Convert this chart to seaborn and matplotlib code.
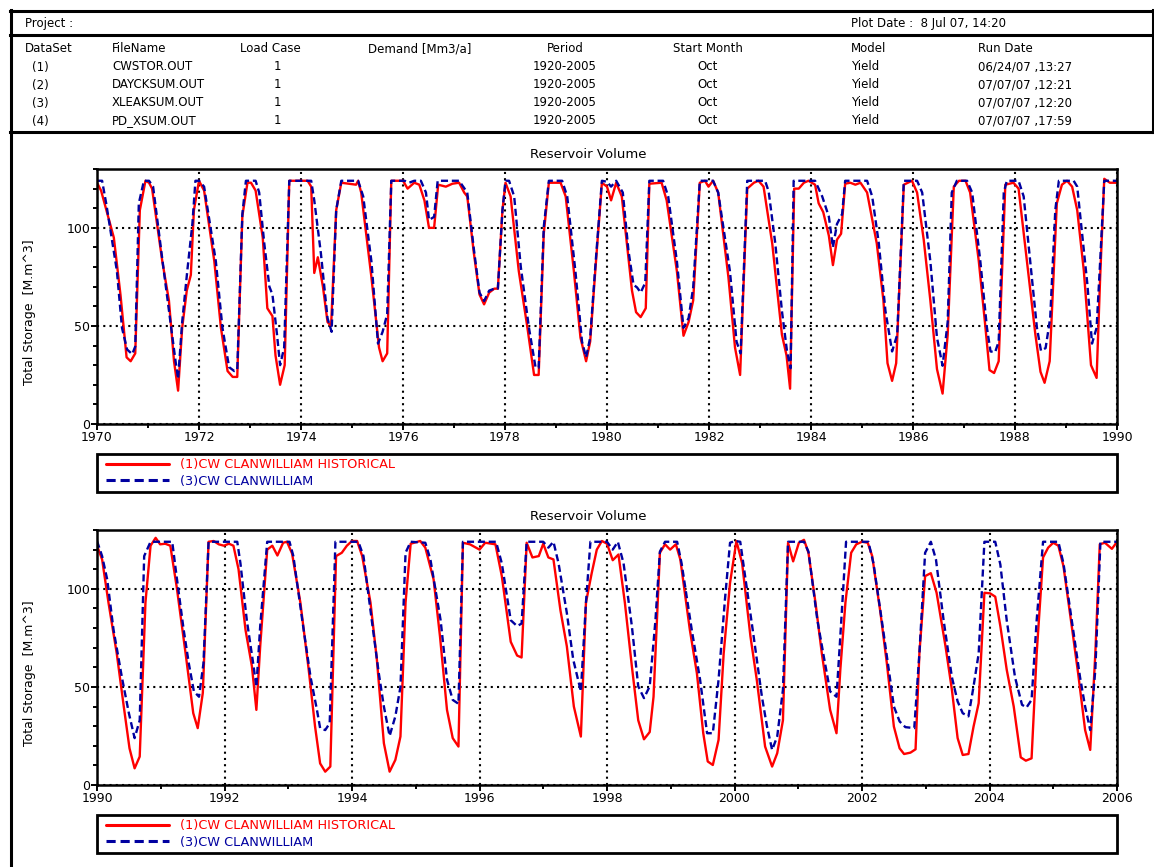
import numpy as np
import pandas as pd
import matplotlib
matplotlib.use("Agg")
import matplotlib.pyplot as plt
import seaborn as sns
from matplotlib.lines import Line2D
from matplotlib.patches import Rectangle
from matplotlib.ticker import MultipleLocator, FixedLocator, FormatStrFormatter

W, H = 1154, 867
RED = "#FF0000"
BLUE = "#0000A0"

# ── Header table ──────────────────────────────────────────────────────────────
HEAD_COLS = ["DataSet", "FileName", "Load Case", "Demand [Mm3/a]", "Period",
             "Start Month", "Model", "Run Date"]
DATASETS  = ["(1)", "(2)", "(3)", "(4)"]
FILENAMES = ["CWSTOR.OUT", "DAYCKSUM.OUT", "XLEAKSUM.OUT", "PD_XSUM.OUT"]
LOADCASES = ["1", "1", "1", "1"]
PERIODS   = ["1920-2005"] * 4
MONTHS    = ["Oct"] * 4
MODELS    = ["Yield"] * 4
RUNDATES  = ["06/24/07 ,13:27", "07/07/07 ,12:21", "07/07/07 ,12:20", "07/07/07 ,17:59"]

LABEL_HIST = "(1)CW CLANWILLIAM HISTORICAL"
LABEL_CW   = "(3)CW CLANWILLIAM"

# ── Storage series (year, M.m^3) ─────────────────────────────────────────────
hist_7090 = [
    (1970.00,123),(1970.08,119),(1970.33,95),(1970.46,66),(1970.58,34),(1970.66,32),(1970.75,36),
    (1970.84,109),(1970.95,124),(1971.02,123),(1971.08,120),(1971.28,83),(1971.41,63),(1971.51,32),
    (1971.59,17),(1971.67,49),(1971.76,68),(1971.84,76),(1971.90,109),(1972.00,124),(1972.10,119),
    (1972.30,83),(1972.43,49),(1972.56,27),(1972.66,24),(1972.75,24),(1972.85,106),(1972.95,123),
    (1973.02,123),(1973.11,119),(1973.25,95),(1973.34,59),(1973.44,55),(1973.50,35),(1973.59,20),
    (1973.68,30),(1973.77,124),(1974.13,124),(1974.20,121),(1974.26,77),(1974.33,85),(1974.43,70),
    (1974.52,52),(1974.59,50),(1974.69,109),(1974.79,123),(1975.08,122),(1975.12,124),(1975.18,118),
    (1975.38,75),(1975.53,39),(1975.60,32),(1975.69,36),(1975.77,124),(1976.00,124),(1976.09,120),
    (1976.22,123),(1976.32,122),(1976.42,114),(1976.51,100),(1976.61,100),(1976.69,122),(1976.84,121),
    (1976.97,122.5),(1977.10,123),(1977.20,118),(1977.26,116),(1977.39,87),(1977.50,66),(1977.59,61),
    (1977.69,67),(1977.79,69),(1977.86,69),(1977.95,109),(1978.01,123),(1978.11,116),(1978.27,78),
    (1978.44,49),(1978.57,25),(1978.66,25),(1978.76,97),(1978.86,123),(1979.09,123),(1979.19,116),
    (1979.35,78),(1979.48,44),(1979.59,32),(1979.67,42),(1979.77,78),(1979.90,123),(1980.00,121),
    (1980.08,114),(1980.18,123),(1980.29,116),(1980.39,92),(1980.49,68),(1980.57,57),(1980.66,54.5),
    (1980.76,59),(1980.83,122.5),(1981.07,123),(1981.17,114),(1981.37,78),(1981.50,45),(1981.60,52),
    (1981.69,63),(1981.82,123),(1981.92,124),(1981.99,121),(1982.08,124),(1982.18,118),(1982.38,75),
    (1982.51,39),(1982.61,25),(1982.75,120),(1982.88,123),(1982.97,124),(1983.07,121),(1983.24,92),
    (1983.33,70),(1983.43,45.5),(1983.52,35),(1983.59,18),(1983.67,120),(1983.76,120),(1983.86,123),
    (1983.95,124),(1984.08,122),(1984.15,112.5),(1984.24,108),(1984.35,96),(1984.43,81),(1984.51,94),
    (1984.59,97),(1984.67,122.5),(1984.77,123),(1984.87,122),(1984.97,123),(1985.10,118),(1985.29,92),
    (1985.42,63),(1985.50,31),(1985.59,22),(1985.67,31),(1985.82,122),(1985.98,124),(1986.08,118),
    (1986.21,94),(1986.34,63),(1986.47,28),(1986.58,15.5),(1986.68,45.5),(1986.80,121),(1986.90,124),
    (1987.03,124),(1987.12,118),(1987.29,83),(1987.41,52),(1987.50,27.5),(1987.59,26),(1987.68,32),
    (1987.81,122),(1987.97,123),(1988.07,120),(1988.27,75),(1988.40,45.5),(1988.50,26.6),(1988.58,21),
    (1988.68,32),(1988.82,112.5),(1988.92,122),(1989.02,124),(1989.12,121),(1989.22,109),(1989.35,78),
    (1989.49,30),(1989.60,23.5),(1989.67,75),(1989.75,125),(1989.86,123),(1990.00,123),
]
cw_7090 = [
    (1970.00,124),(1970.10,124),(1970.18,112.5),(1970.39,78),(1970.49,49),(1970.59,38),(1970.69,35.6),
    (1970.75,39.5),(1970.82,112.5),(1970.92,124),(1971.02,124),(1971.10,121),(1971.31,78),(1971.44,52),
    (1971.54,32),(1971.59,23),(1971.67,52),(1971.77,78),(1971.87,102),(1971.93,124),(1972.00,124),
    (1972.10,121),(1972.33,83),(1972.46,49),(1972.59,29),(1972.69,27),(1972.75,27.5),(1972.85,107),
    (1972.92,124),(1973.11,124),(1973.18,118),(1973.28,92),(1973.38,70),(1973.44,66),(1973.53,45.5),
    (1973.59,30),(1973.67,39),(1973.77,124),(1974.20,124),(1974.26,114),(1974.39,87),(1974.52,54),
    (1974.60,47),(1974.69,109),(1974.79,124),(1975.12,124),(1975.22,116),(1975.38,83),(1975.51,41),
    (1975.60,47),(1975.69,56),(1975.77,124),(1976.03,124),(1976.12,123),(1976.22,124),(1976.35,124),
    (1976.45,118),(1976.51,104),(1976.61,105.6),(1976.68,124),(1977.10,124),(1977.26,118),(1977.39,89),
    (1977.50,67),(1977.59,62.7),(1977.69,68),(1977.79,69),(1977.86,69),(1977.95,109),(1978.01,124),
    (1978.08,124),(1978.18,116),(1978.31,80),(1978.47,49),(1978.60,28.7),(1978.66,28.7),(1978.76,100.5),
    (1978.86,124),(1979.12,124),(1979.22,116),(1979.38,78),(1979.51,42),(1979.59,34),(1979.67,44),
    (1979.77,80),(1979.90,124),(1980.00,123.5),(1980.08,121),(1980.18,124),(1980.31,118),(1980.42,88.5),
    (1980.52,71),(1980.59,69.6),(1980.66,67),(1980.75,72),(1980.83,124),(1981.10,124),(1981.20,116),
    (1981.37,83),(1981.50,49),(1981.60,54),(1981.69,69.6),(1981.82,124),(1982.08,124),(1982.18,118),
    (1982.41,78),(1982.54,42),(1982.62,36),(1982.75,124),(1983.10,124),(1983.17,118.5),(1983.30,92),
    (1983.43,57.6),(1983.53,37),(1983.60,28.4),(1983.66,124),(1984.08,124),(1984.22,116),(1984.35,105.7),
    (1984.43,90),(1984.51,102),(1984.61,107),(1984.67,124),(1985.10,124),(1985.20,116),(1985.33,92),
    (1985.46,57.6),(1985.59,37),(1985.69,45.5),(1985.82,124),(1986.08,124),(1986.18,118),(1986.34,83),
    (1986.47,44),(1986.58,29.7),(1986.68,52),(1986.76,118),(1986.86,124),(1987.06,124),(1987.16,118),
    (1987.32,83),(1987.45,49),(1987.52,37),(1987.61,36.6),(1987.68,42),(1987.78,118),(1987.84,124),
    (1988.07,124),(1988.17,116),(1988.33,75),(1988.43,49),(1988.51,37.3),(1988.60,38.7),(1988.69,54),
    (1988.79,109),(1988.86,124),(1989.15,124),(1989.22,121),(1989.42,71),(1989.51,41),(1989.60,49),
    (1989.67,83),(1989.75,124),(1990.00,124),
]
hist_9006 = [
    (1990.00,122),(1990.08,115),(1990.18,93),(1990.31,67),(1990.42,40),(1990.51,18.7),(1990.59,8.5),
    (1990.67,14.5),(1990.76,93),(1990.84,122),(1990.92,126),(1990.99,122.7),(1991.07,123),(1991.15,122),
    (1991.25,101),(1991.39,67),(1991.51,36.6),(1991.58,29),(1991.66,47),(1991.75,124),(1991.83,124.4),
    (1991.91,122.7),(1991.99,122),(1992.07,123),(1992.14,122),(1992.22,110),(1992.33,79),(1992.43,60.5),
    (1992.50,38.3),(1992.56,70.7),(1992.67,120),(1992.75,122),(1992.83,117),(1992.92,123.5),(1992.98,124),
    (1993.06,118),(1993.19,93),(1993.32,59),(1993.42,30),(1993.50,11),(1993.58,6.8),(1993.66,9.4),
    (1993.75,116.7),(1993.84,118.4),(1993.92,122),(1994.00,124.4),(1994.08,124.4),(1994.16,116.7),
    (1994.29,93),(1994.39,64),(1994.50,21.3),(1994.59,6.8),(1994.68,12.8),(1994.76,24.7),(1994.84,93),
    (1994.92,123),(1995.07,124.4),(1995.15,121),(1995.28,104.8),(1995.38,75.8),(1995.49,38.3),
    (1995.58,23.9),(1995.67,19.6),(1995.74,123.5),(1995.85,122.7),(1996.00,120),(1996.09,123.5),
    (1996.25,122.7),(1996.35,106.5),(1996.49,73),(1996.59,66),(1996.66,65),(1996.74,123.5),(1996.83,116),
    (1996.93,116.7),(1997.00,123),(1997.08,116),(1997.16,115),(1997.27,89),(1997.37,70.7),(1997.48,40),
    (1997.59,24.7),(1997.67,93),(1997.76,108),(1997.84,120),(1997.92,124.4),(1998.00,123),(1998.09,114.6),
    (1998.18,117.5),(1998.28,93),(1998.39,60.5),(1998.49,33),(1998.58,23.3),(1998.67,27),(1998.73,45),
    (1998.83,118.4),(1998.91,122.7),(1998.99,120),(1999.08,122.7),(1999.15,115),(1999.30,79),(1999.41,57),
    (1999.51,26.4),(1999.58,12),(1999.66,10.2),(1999.75,23),(1999.83,67),(1999.93,103),(2000.03,124.4),
    (2000.12,113),(2000.25,75.8),(2000.35,53.5),(2000.48,19.6),(2000.59,9.4),(2000.67,16.2),(2000.76,33),
    (2000.84,123.5),(2000.92,114),(2001.01,123.5),(2001.09,125),(2001.16,118.4),(2001.27,93),(2001.37,67),
    (2001.50,38.3),(2001.60,26.4),(2001.66,58.8),(2001.74,93),(2001.83,118.4),(2001.91,122.7),(2002.00,124),
    (2002.09,123.5),(2002.16,116.7),(2002.29,87.7),(2002.39,62),(2002.50,29.8),(2002.59,18.7),(2002.66,15.8),
    (2002.76,16.5),(2002.84,18.2),(2002.90,67),(2002.99,106.5),(2003.08,108),(2003.17,98),(2003.31,70.7),
    (2003.41,48.6),(2003.50,23.9),(2003.58,15.3),(2003.67,15.8),(2003.75,29.8),(2003.83,41.7),(2003.92,98),
    (2004.01,97.7),(2004.09,96),(2004.17,81),(2004.27,58.8),(2004.38,40),(2004.49,14.1),(2004.57,12.4),
    (2004.66,13.6),(2004.74,67),(2004.84,116),(2004.92,121),(2005.00,123.5),(2005.08,122),(2005.16,111.6),
    (2005.29,81),(2005.39,57),(2005.50,28),(2005.58,17.9),(2005.66,67),(2005.73,122.7),(2005.81,123.5),
    (2005.92,120.4),(2005.99,123.5),
]
cw_9006 = [
    (1990.00,124.4),(1990.08,116.7),(1990.16,104.8),(1990.26,79),(1990.39,55),(1990.50,36.6),(1990.59,23.9),
    (1990.67,33),(1990.74,116.7),(1990.84,124),(1991.18,124),(1991.25,106),(1991.36,79),(1991.44,62),
    (1991.52,47.7),(1991.60,45),(1991.67,62),(1991.75,124),(1992.20,124),(1992.25,113),(1992.35,84),
    (1992.45,62),(1992.50,50),(1992.56,81),(1992.67,124),(1993.02,124),(1993.08,116.7),(1993.22,84),
    (1993.35,55),(1993.45,38.3),(1993.50,29),(1993.58,28),(1993.65,31.5),(1993.74,124),(1994.10,124),
    (1994.18,116.7),(1994.31,84),(1994.42,57),(1994.50,40),(1994.59,25),(1994.68,35),(1994.76,50),
    (1994.84,118.4),(1994.92,124),(1995.15,123.5),(1995.23,115),(1995.39,84),(1995.49,53.7),(1995.58,43.4),
    (1995.67,41.4),(1995.74,124),(1996.26,124),(1996.35,113),(1996.49,84),(1996.59,81),(1996.66,82.3),
    (1996.74,124),(1997.00,124),(1997.08,121),(1997.16,124),(1997.24,113),(1997.37,87.7),(1997.47,64),
    (1997.59,47.7),(1997.67,93),(1997.74,124),(1998.00,124),(1998.09,120),(1998.17,124),(1998.26,113),
    (1998.39,81),(1998.49,50.3),(1998.58,44.3),(1998.67,50.3),(1998.76,84),(1998.83,119),(1998.91,124),
    (1999.10,124),(1999.17,113),(1999.33,79),(1999.46,53.7),(1999.57,26.4),(1999.66,26.4),(1999.75,53.7),
    (1999.85,94.5),(1999.93,123.5),(2000.01,124.4),(2000.09,124),(2000.19,101),(2000.30,75.8),(2000.43,45),
    (2000.51,29.8),(2000.59,17.9),(2000.67,24.7),(2000.76,48.6),(2000.84,124),(2001.09,124),(2001.16,119),
    (2001.30,84),(2001.40,65.6),(2001.50,47.7),(2001.60,45),(2001.66,75.8),(2001.75,124),(2002.10,124),
    (2002.18,113),(2002.31,84),(2002.42,58.8),(2002.50,40),(2002.59,32.4),(2002.68,29.5),(2002.82,29),
    (2002.90,67),(2002.99,118.4),(2003.08,124),(2003.16,115),(2003.28,84),(2003.41,55),(2003.50,42.6),
    (2003.58,36.6),(2003.67,35),(2003.75,50.3),(2003.83,67),(2003.92,124),(2004.09,124),(2004.17,112.4),
    (2004.27,84),(2004.40,55),(2004.51,40.9),(2004.58,39.5),(2004.66,43.4),(2004.74,84),(2004.84,124),
    (2005.08,124),(2005.16,113),(2005.29,84),(2005.42,55),(2005.50,40),(2005.58,28),(2005.66,58.8),
    (2005.74,124),(2006.00,124),
]

sns.set_style("ticks")
plt.rcParams["font.family"] = ["DejaVu Sans"]
plt.rcParams["axes.unicode_minus"] = False
plt.rcParams["axes.edgecolor"] = "black"
plt.rcParams["xtick.color"] = "black"
plt.rcParams["ytick.color"] = "black"
plt.rcParams["text.color"] = "black"
plt.rcParams["axes.labelcolor"] = "black"


def to_frame(pairs):
    return pd.DataFrame(pairs, columns=["year", "storage"])


def draw_panel(ax, bg, hist, cw, x0, x1, legend_top):
    sns.lineplot(data=to_frame(hist), x="year", y="storage", ax=ax, estimator=None,
                 sort=False, color=RED, linewidth=1.7, label=LABEL_HIST)
    sns.lineplot(data=to_frame(cw), x="year", y="storage", ax=ax, estimator=None,
                 sort=False, color=BLUE, linewidth=1.7, label=LABEL_CW)
    ax.lines[-1].set_dashes((3, 1.6))

    ax.set_xlim(x0, x1)
    ax.set_ylim(0, 130)
    ax.xaxis.set_major_locator(MultipleLocator(2))
    ax.xaxis.set_minor_locator(MultipleLocator(1))
    ax.xaxis.set_major_formatter(FormatStrFormatter("%d"))
    ax.yaxis.set_major_locator(FixedLocator([0, 50, 100]))
    ax.yaxis.set_minor_locator(MultipleLocator(10))
    ax.tick_params(which="major", direction="out", length=4, width=1.4, labelsize=9,
                   pad=1, colors="black")
    ax.tick_params(which="minor", direction="out", length=3, width=1.4, colors="black")
    ax.grid(True, which="major", color="black", linestyle=(0, (1, 2)), linewidth=1.5)
    for sp in ax.spines.values():
        sp.set_visible(True)
        sp.set_linewidth(1.8)
        sp.set_edgecolor("black")
    ax.set_xlabel("")
    ax.set_ylabel("Total Storage  [M.m^3]", fontsize=9, color="black")
    ax.yaxis.set_label_coords(-0.06, 0.44)

    # legend box spanning the axes width, entries drawn by matplotlib's legend
    bg.add_patch(Rectangle((97, legend_top), 1020, 38, fill=False,
                           edgecolor="black", linewidth=2))
    handles, labels = ax.get_legend_handles_labels()
    leg = ax.legend(handles, labels, loc="center left",
                    bbox_to_anchor=(106 / W, 1 - (legend_top + 19) / H),
                    bbox_transform=ax.figure.transFigure, borderaxespad=0,
                    frameon=False, fontsize=9.3, handlelength=4.9, handletextpad=0.8,
                    labelspacing=0.3, borderpad=0)
    for txt, col in zip(leg.get_texts(), [RED, BLUE]):
        txt.set_color(col)
    for ln in leg.get_lines():
        ln.set_linewidth(2.2)


fig = plt.figure(figsize=(W / 100, H / 100), dpi=100)

# page frame and header table, drawn in pixel coordinates
bg = fig.add_axes([0, 0, 1, 1])
bg.set_xlim(0, W)
bg.set_ylim(H, 0)
bg.axis("off")
for (xa, xb, ya, yb) in [(10, W, 11, 11), (10, W, 35, 35), (10, W, 132, 132),
                         (11, 11, 10, H), (W - 1, W - 1, 10, 132)]:
    bg.add_line(Line2D([xa, xb], [ya, yb], color="black", lw=2.2, solid_capstyle="projecting"))

hfs = 8.5
bg.text(25, 23, "Project :", fontsize=hfs, va="center")
bg.text(851, 23, "Plot Date :  8 Jul 07, 14:20", fontsize=hfs, va="center")
col_x  = [25, 112, 240, 368, 565, 708, 851, 978]
col_ha = ["left", "left", "left", "left", "center", "center", "left", "left"]
for x, ha, name in zip(col_x, col_ha, HEAD_COLS):
    bg.text(x, 49, name, fontsize=hfs, ha=ha, va="center")
row_y = [67, 85, 103, 121]
cells = [(32, "left", DATASETS), (112, "left", FILENAMES), (277, "center", LOADCASES),
         (565, "center", PERIODS), (708, "center", MONTHS), (851, "left", MODELS),
         (978, "left", RUNDATES)]
for x, ha, vals in cells:
    for y, v in zip(row_y, vals):
        bg.text(x, y, v, fontsize=hfs, ha=ha, va="center")

ax1 = fig.add_axes([97 / W, 1 - 424 / H, 1020 / W, 255 / H])
ax2 = fig.add_axes([97 / W, 1 - 785 / H, 1020 / W, 255 / H])
draw_panel(ax1, bg, hist_7090, cw_7090, 1970, 1990, 454)
draw_panel(ax2, bg, hist_9006, cw_9006, 1990, 2006, 815)

fig.text(588 / W, 1 - 155 / H, "Reservoir Volume", ha="center", va="center", fontsize=9.5)
fig.text(588 / W, 1 - 517 / H, "Reservoir Volume", ha="center", va="center", fontsize=9.5)

fig.savefig("out.png", dpi=100)
